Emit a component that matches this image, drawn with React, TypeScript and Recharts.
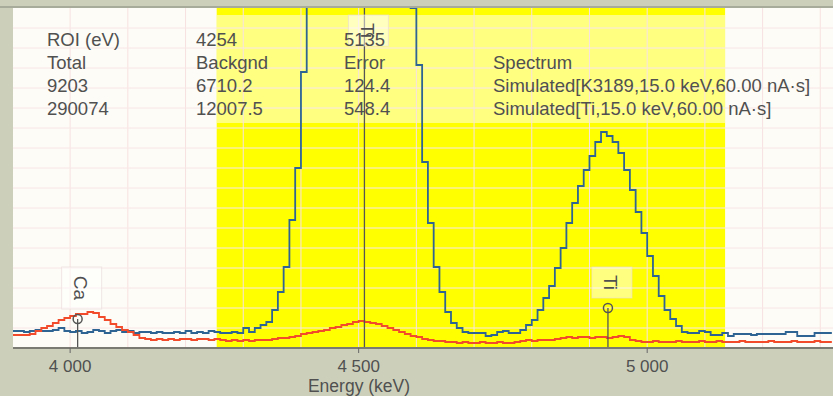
import React from "react";
import {
  LineChart,
  Line,
  XAxis,
  YAxis,
  CartesianGrid,
  ReferenceLine,
  ReferenceArea,
  ReferenceDot,
} from "recharts";

// Channel energies (eV), 10 eV channels
const energies = [
  3900, 3910, 3920, 3930, 3940, 3950, 3960, 3970, 3980, 3990,
  4000, 4010, 4020, 4030, 4040, 4050, 4060, 4070, 4080, 4090,
  4100, 4110, 4120, 4130, 4140, 4150, 4160, 4170, 4180, 4190,
  4200, 4210, 4220, 4230, 4240, 4250, 4260, 4270, 4280, 4290,
  4300, 4310, 4320, 4330, 4340, 4350, 4360, 4370, 4380, 4390,
  4400, 4410, 4420, 4430, 4440, 4450, 4460, 4470, 4480, 4490,
  4500, 4510, 4520, 4530, 4540, 4550, 4560, 4570, 4580, 4590,
  4600, 4610, 4620, 4630, 4640, 4650, 4660, 4670, 4680, 4690,
  4700, 4710, 4720, 4730, 4740, 4750, 4760, 4770, 4780, 4790,
  4800, 4810, 4820, 4830, 4840, 4850, 4860, 4870, 4880, 4890,
  4900, 4910, 4920, 4930, 4940, 4950, 4960, 4970, 4980, 4990,
  5000, 5010, 5020, 5030, 5040, 5050, 5060, 5070, 5080, 5090,
  5100, 5110, 5120, 5130, 5140, 5150, 5160, 5170, 5180, 5190,
  5200, 5210, 5220, 5230, 5240, 5250, 5260, 5270, 5280, 5290,
  5300, 5310, 5320,
];

// Simulated[Ti,...] spectrum (blue)
const tiCounts = [
  17, 17, 16, 17, 18, 17, 17, 18, 20, 17,
  16, 17, 15, 16, 18, 17, 15, 17, 18, 16,
  17, 15, 16, 16, 15, 16, 15, 15, 16, 15,
  17, 15, 16, 15, 17, 16, 15, 15, 16, 15,
  20, 16, 20, 23, 26, 38, 56, 81, 128, 180,
  276, 420, 620, 850, 1100, 1350, 1560, 1720, 1830, 1880,
  1870, 1800, 1680, 1510, 1300, 1080, 860, 660, 480, 340,
  283, 186, 125, 81, 56, 36, 25, 20, 16, 15,
  15, 15, 12, 13, 16, 17, 15, 15, 18, 23,
  28, 38, 50, 62, 80, 100, 125, 145, 162, 178,
  192, 206, 216, 212, 206, 195, 178, 158, 136, 115,
  92, 72, 52, 38, 29, 22, 16, 15, 15, 17,
  16, 13, 13, 15, 12, 14, 14, 14, 13, 14,
  14, 14, 14, 14, 16, 16, 12, 12, 12, 15,
  15, 15, 15,
];

// Simulated[K3189,...] spectrum (red)
const k3189Counts = [
  13, 13, 13, 14, 17, 20, 22, 25, 28, 30,
  32, 34, 34, 36, 35, 31, 28, 24, 21, 18,
  16, 13, 10, 9, 8, 9, 8, 9, 8, 9,
  9, 8, 9, 9, 8, 9, 8, 7, 8, 7,
  8, 7, 8, 8, 8, 9, 10, 10, 11, 12,
  14, 15, 16, 17, 18, 20, 21, 23, 24, 26,
  27, 26, 25, 24, 22, 20, 18, 16, 14, 12,
  11, 9, 8, 7, 7, 6, 6, 5, 6, 5,
  5, 6, 5, 5, 6, 5, 5, 6, 7, 8,
  7, 8, 8, 8, 9, 10, 11, 10, 11, 11,
  10, 11, 11, 10, 11, 12, 11, 8, 7, 6,
  6, 7, 6, 6, 6, 7, 6, 6, 6, 7,
  6, 6, 7, 6, 6, 6, 7, 6, 6, 6,
  6, 7, 6, 6, 6, 7, 6, 6, 6, 7,
  6, 6, 6,
];

const xTicks = [4000, 4500, 5000];
const xDomain = [3901, 5322];
const yDomain = [0, 340];
const gridEnergies = [4000, 4100, 4200, 4300, 4400, 4500, 4600, 4700, 4800, 4900, 5000, 5100, 5200, 5300];
const gridCounts = [20, 40, 60, 80, 100, 120, 140, 160, 180, 200, 220, 240, 260, 280, 300, 320];
const roiBounds = [4254, 5135];

const markerNames = ["Ca", "Ti", "Ti"];
const markerEnergies = [4013, 4510, 4932];
const markerHeights = [29, 2000, 40];

const tableHeaders = ["Total", "Backgnd", "Error", "Spectrum"];
const totals = ["9203", "290074"];
const backgrounds = ["6710.2", "12007.5"];
const errors = ["124.4", "548.4"];
const spectra = [
  "Simulated[K3189,15.0 keV,60.00 nA·s]",
  "Simulated[Ti,15.0 keV,60.00 nA·s]",
];

const FONT = "'Liberation Sans', Arial, sans-serif";
const TEXT_COLOR = "#505050";
const labelBoxHeights: Record<string, number> = { Ca: 42, Ti: 31 };

const data = energies.map((e, i) => ({ e, ti: tiCounts[i], k3189: k3189Counts[i] }));

const fmtTick = (v: number) => {
  const th = Math.floor(v / 1000);
  const rest = String(v % 1000).padStart(3, "0");
  return `${th} ${rest}`;
};

function LabelBox({ cx, top, name }: { cx: number; top: number; name: string }) {
  const h = labelBoxHeights[name] ?? 34;
  const bx = cx + 4;
  const cy = top + h / 2;
  return (
    <g>
      <rect
        x={bx - 20}
        y={top}
        width={40}
        height={h}
        fill="#ffffff"
        fillOpacity={0.5}
        stroke="#ead8d8"
        strokeOpacity={0.6}
      />
      <text
        x={bx - 1}
        y={cy}
        transform={`rotate(90, ${bx - 1}, ${cy})`}
        textAnchor="middle"
        dominantBaseline="central"
        fontFamily={FONT}
        fontSize={19}
        fill={TEXT_COLOR}
      >
        {name}
      </text>
    </g>
  );
}

function MarkerShape(props: any) {
  const { cx, cy, name } = props;
  const h = labelBoxHeights[name] ?? 34;
  return (
    <g>
      <LabelBox cx={cx} top={cy - 10 - h} name={name} />
      <circle cx={cx} cy={cy} r={4.5} fill="none" stroke="#555" strokeWidth={1.5} />
    </g>
  );
}

function TopMarkerShape(props: any) {
  const { cx, cy, name } = props;
  return <LabelBox cx={cx} top={cy + 7} name={name} />;
}

function RoiShape(props: any) {
  const { x, y, width, height } = props;
  return (
    <g>
      <rect x={x} y={y} width={width} height={height} fill="#ffff00" />
      <rect x={x} y={y + 7} width={width} height={108} fill="#ffffff" fillOpacity={0.5} />
    </g>
  );
}

export default function App() {
  const colX = [47, 196, 344, 493];
  const rowY = [46, 69, 92, 115];
  const rows = [
    ["ROI (eV)", String(roiBounds[0]), String(roiBounds[1]), ""],
    tableHeaders,
    [totals[0], backgrounds[0], errors[0], spectra[0]],
    [totals[1], backgrounds[1], errors[1], spectra[1]],
  ];
  return (
    <div
      style={{
        position: "absolute",
        left: 0,
        top: 0,
        width: 833,
        height: 396,
        background: "#ccd0bb",
        overflow: "hidden",
      }}
    >
      <LineChart
        width={833}
        height={396}
        data={data}
        margin={{ top: 8, right: 0, bottom: 18, left: 13 }}
      >
        <CartesianGrid fill="#fdfcf6" horizontal={false} vertical={false} />
        <XAxis
          dataKey="e"
          type="number"
          domain={xDomain}
          ticks={xTicks}
          allowDataOverflow
          tickFormatter={fmtTick}
          height={30}
          tickSize={5}
          tickMargin={7}
          tick={{ fill: TEXT_COLOR, fontSize: 17, fontFamily: FONT }}
          axisLine={{ stroke: "#7a7a72", strokeWidth: 2 }}
          tickLine={{ stroke: "#666" }}
        />
        <YAxis type="number" domain={yDomain} allowDataOverflow hide />
        {gridEnergies.map((g) => (
          <ReferenceLine key={`gx${g}`} x={g} stroke="#f7e1e1" strokeWidth={1} />
        ))}
        {gridCounts.map((g) => (
          <ReferenceLine key={`gy${g}`} y={g} stroke="#f8e6e6" strokeWidth={1} />
        ))}
        <ReferenceArea x1={roiBounds[0]} x2={roiBounds[1]} shape={<RoiShape />} />
        <Line
          type="stepAfter"
          dataKey="ti"
          stroke="#2d6494"
          strokeWidth={1.8}
          dot={false}
          isAnimationActive={false}
        />
        <Line
          type="stepAfter"
          dataKey="k3189"
          stroke="#f24b2b"
          strokeWidth={1.8}
          dot={false}
          isAnimationActive={false}
        />
        {markerEnergies.map((e, i) => {
          const h = markerHeights[i];
          const top = Math.min(h, yDomain[1]);
          return (
            <ReferenceLine
              key={`ml${i}`}
              segment={[
                { x: e, y: 0 },
                { x: e, y: top },
              ]}
              stroke="#555"
              strokeWidth={1.3}
            />
          );
        })}
        {markerEnergies.map((e, i) => {
          const h = markerHeights[i];
          const name = markerNames[i];
          if (h > yDomain[1]) {
            return (
              <ReferenceDot
                key={`md${i}`}
                x={e}
                y={yDomain[1]}
                r={1}
                shape={(p: any) => <TopMarkerShape {...p} name={name} />}
              />
            );
          }
          return (
            <ReferenceDot
              key={`md${i}`}
              x={e}
              y={h}
              r={4.5}
              shape={(p: any) => <MarkerShape {...p} name={name} />}
            />
          );
        })}
      </LineChart>
      <svg
        width={833}
        height={396}
        style={{ position: "absolute", left: 0, top: 0, pointerEvents: "none" }}
      >
        <rect x={0} y={6} width={833} height={2} fill="#a7ab99" />
        {rows.map((r, ri) =>
          r.map((t, ci) =>
            t ? (
              <text
                key={`t${ri}-${ci}`}
                x={colX[ci]}
                y={rowY[ri]}
                fontFamily={FONT}
                fontSize={18.5}
                fill={TEXT_COLOR}
              >
                {t}
              </text>
            ) : null
          )
        )}
        <text
          x={359}
          y={392}
          textAnchor="middle"
          fontFamily={FONT}
          fontSize={17.5}
          fill={TEXT_COLOR}
        >
          Energy (keV)
        </text>
      </svg>
    </div>
  );
}
